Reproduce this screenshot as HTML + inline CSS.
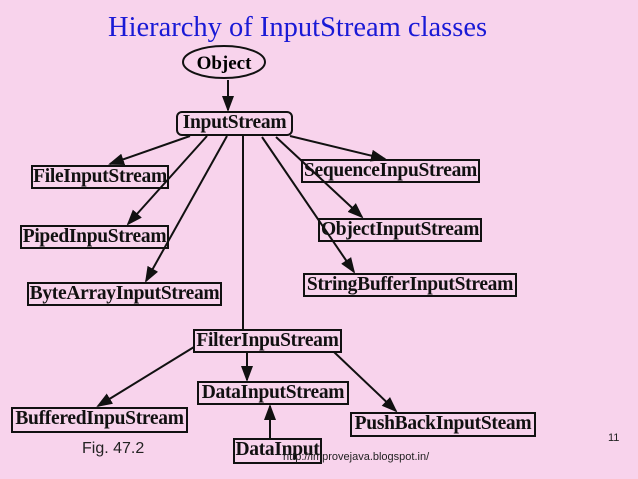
<!DOCTYPE html>
<html><head><style>
body{margin:0;width:638px;height:479px;background:#f8d3ec;overflow:hidden;position:relative;font-family:"Liberation Serif",serif}
.b{position:absolute;border:2px solid #111;font-weight:bold;font-size:19.5px;line-height:20px;text-align:center;box-sizing:border-box;white-space:nowrap;color:#111;letter-spacing:-0.3px}
</style></head><body>
<div style="position:absolute;left:108px;top:12px;font-size:28.5px;color:#1a1ad6">Hierarchy of InputStream classes</div>
<div class="b" style="left:176px;top:111px;width:117px;height:25px;border-radius:6px">InputStream</div>
<div class="b" style="left:31px;top:165px;width:138px;height:24px">FileInputStream</div>
<div class="b" style="left:20px;top:225px;width:149px;height:24px">PipedInpuStream</div>
<div class="b" style="left:27px;top:282px;width:195px;height:24px">ByteArrayInputStream</div>
<div class="b" style="left:301px;top:159px;width:179px;height:24px">SequenceInpuStream</div>
<div class="b" style="left:318px;top:218px;width:164px;height:24px">ObjectInputStream</div>
<div class="b" style="left:303px;top:273px;width:214px;height:24px">StringBufferInputStream</div>
<div class="b" style="left:193px;top:329px;width:149px;height:24px">FilterInpuStream</div>
<div class="b" style="left:197px;top:381px;width:152px;height:24px">DataInputStream</div>
<div class="b" style="left:11px;top:407px;width:177px;height:26px">BufferedInpuStream</div>
<div class="b" style="left:350px;top:412px;width:186px;height:25px">PushBackInputSteam</div>
<div class="b" style="left:233px;top:438px;width:89px;height:26px">DataInput</div>
<svg width="638" height="479" style="position:absolute;left:0;top:0">
<defs><marker id="a" markerWidth="8" markerHeight="8" refX="7" refY="4" orient="auto"><path d="M0,1 L8,4 L0,7z" fill="#111"/></marker></defs>
<g stroke="#111" stroke-width="2" fill="none">
<line x1="228" y1="80" x2="228" y2="110" marker-end="url(#a)"/>
<line x1="190" y1="136" x2="110" y2="164" marker-end="url(#a)"/>
<line x1="207" y1="136" x2="128" y2="224" marker-end="url(#a)"/>
<line x1="227" y1="136" x2="146" y2="281" marker-end="url(#a)"/>
<line x1="243" y1="136" x2="243" y2="329"/>
<line x1="290" y1="136" x2="385" y2="159" marker-end="url(#a)"/>
<line x1="276" y1="137" x2="362" y2="217" marker-end="url(#a)"/>
<line x1="262" y1="137" x2="354" y2="272" marker-end="url(#a)"/>
<line x1="194" y1="347" x2="98" y2="406" marker-end="url(#a)"/>
<line x1="247" y1="353" x2="247" y2="380" marker-end="url(#a)"/>
<line x1="334" y1="352" x2="396" y2="411" marker-end="url(#a)"/>
<line x1="270" y1="438" x2="270" y2="406" marker-end="url(#a)"/>
</g>
<ellipse cx="224" cy="62" rx="41" ry="16" fill="#f8d3ec" stroke="#111" stroke-width="2"/>
<text x="224" y="69" text-anchor="middle" font-family="Liberation Serif" font-weight="bold" font-size="19">Object</text>
</svg>
<div style="position:absolute;left:82px;top:440px;font-family:'Liberation Sans',sans-serif;font-size:16px;color:#222">Fig. 47.2</div>
<div style="position:absolute;left:283px;top:451px;font-family:'Liberation Sans',sans-serif;font-size:11px;color:#222">http://improvejava.blogspot.in/</div>
<div style="position:absolute;left:608px;top:432px;font-family:'Liberation Sans',sans-serif;font-size:11px;color:#222">11</div>
</body></html>
